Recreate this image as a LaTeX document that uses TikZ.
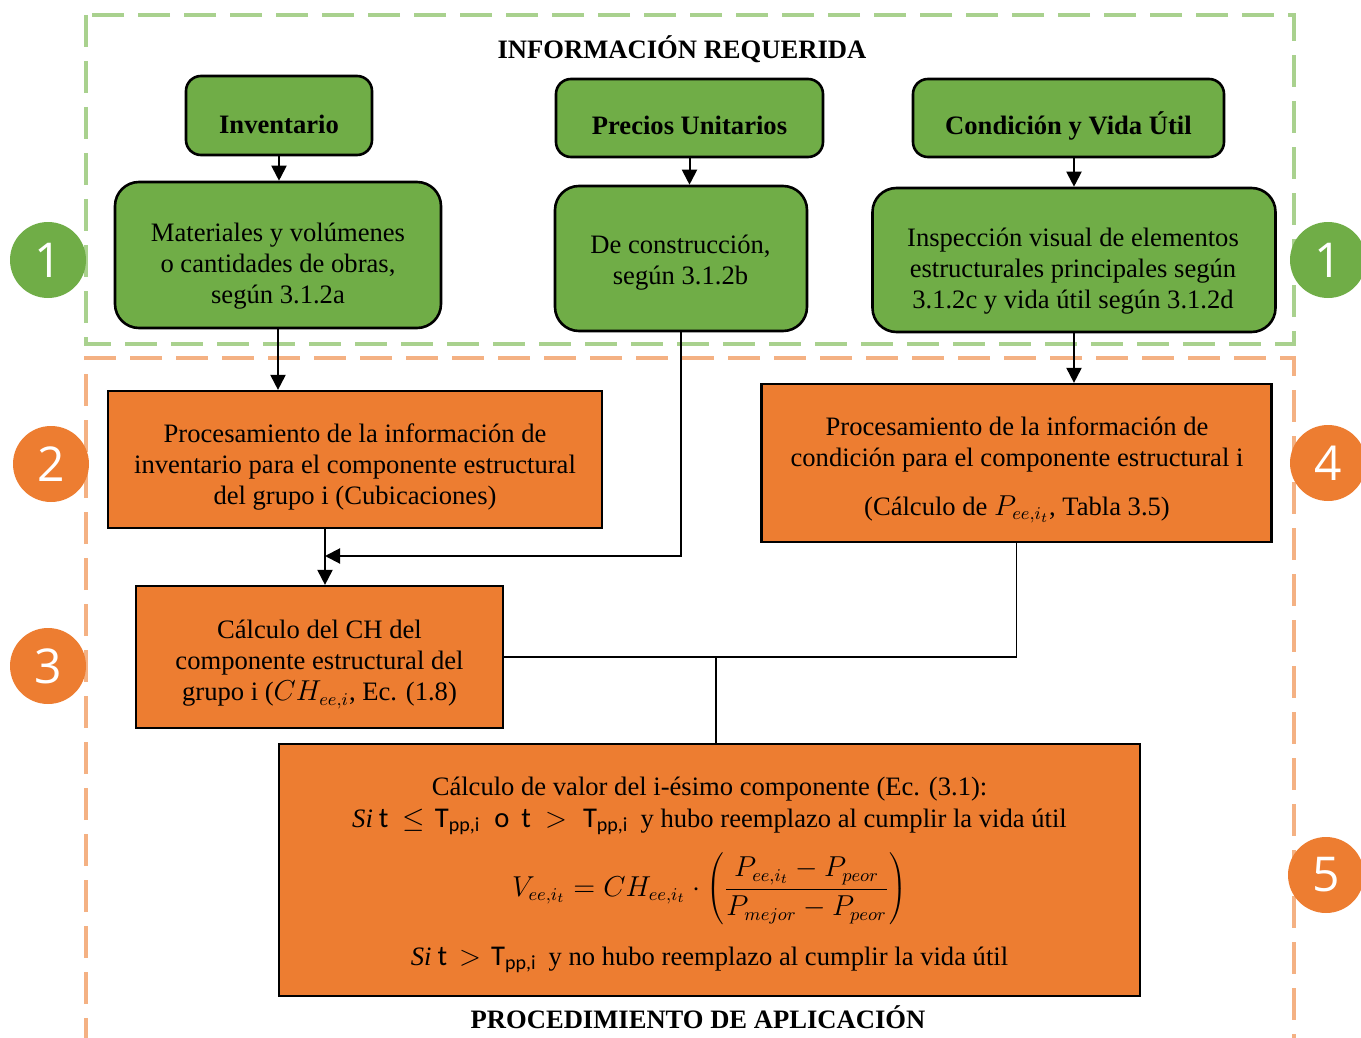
\documentclass[tikz,border=0pt]{standalone}
\usepackage{fontspec}
\setmainfont{Liberation Serif}
\newfontfamily\carl{Carlito}
\newfontfamily\numfont{Open Sans}
\usetikzlibrary{arrows.meta}
\definecolor{gfill}{RGB}{112,173,71}
\definecolor{ofill}{RGB}{237,125,49}
\definecolor{gdashc}{RGB}{169,209,142}
\definecolor{odashc}{RGB}{244,177,131}
\newcommand\cbr[1]{{\carl\fontsize{14.3}{15.5}\selectfont #1}}
\tikzset{
 gbox/.style={draw=black, line width=1.3pt, fill=gfill, rounded corners=7.5pt, inner sep=0pt},
 obox/.style={draw=black, line width=1.1pt, fill=ofill, inner sep=0pt},
 sz/.style 2 args={minimum width=#1*0.5pt, minimum height=#2*0.5pt},
 txt/.style={font=\fontsize{13.3}{15.5}\selectfont, align=center, inner sep=0pt},
 ltxt/.style={font=\fontsize{13.3}{15.5}\selectfont, inner sep=0pt, anchor=base},
 btxt/.style={font=\bfseries\fontsize{13.3}{15.5}\selectfont, inner sep=0pt, anchor=base},
 arr/.style={line width=1pt, -{Triangle[length=7.5pt,width=7.5pt]}},
 conn/.style={line width=1pt},
 thinconn/.style={line width=0.6pt},
 num/.style={circle, inner sep=0pt, minimum size=38pt, text=white, font=\numfont\fontsize{24}{24}\selectfont},
 gdash/.style={draw=gdashc, line width=1.6pt, dash pattern=on 16pt off 7pt},
 odash/.style={draw=odashc, line width=1.6pt, dash pattern=on 16pt off 7pt},
}
\begin{document}
\begin{tikzpicture}[x=0.5pt,y=-0.5pt]
\useasboundingbox (0,0) rectangle (1361,1038);
% dashed frames
\draw[gdash] (86,15) rectangle (1294,344);
\draw[odash] (86,1050) -- (86,358) -- (1294,358) -- (1294,1050);
% titles
\node[btxt] (title1) at (682,59) {INFORMACIÓN REQUERIDA};
\node[btxt] (title2) at (698,1028) {PROCEDIMIENTO DE APLICACIÓN};
% green boxes
\node[gbox, sz={186}{79}] (inv) at (279,115.5) {};
\node[btxt] (inv-t) at (279,133.5) {Inventario};
\node[gbox, rounded corners=12pt, sz={326}{146}] (mat) at (278,255) {};
\node[txt] (mat-t) at (278,266) {Materiales y volúmenes\\o cantidades de obras,\\según 3.1.2a};
\node[gbox, sz={267}{78}] (pre) at (689.5,118) {};
\node[btxt] (pre-t) at (689.5,134.5) {Precios Unitarios};
\node[gbox, rounded corners=12pt, sz={252}{145}] (con) at (681,258.5) {};
\node[txt] (con-t) at (680.5,262.5) {De construcción,\\según 3.1.2b};
\node[gbox, sz={311}{78}] (cvu) at (1068.5,118) {};
\node[btxt] (cvu-t) at (1068.5,135) {Condición y Vida Útil};
\node[gbox, rounded corners=12pt, sz={403}{144}] (insp) at (1074,260) {};
\node[txt] (insp-t) at (1073,271) {Inspección visual de elementos\\estructurales principales según\\3.1.2c y vida útil según 3.1.2d};
% orange boxes
\node[obox, sz={494}{137}] (pinv) at (355,459.5) {};
\node[txt] (pinv-t) at (355,467.5) {Procesamiento de la información de\\inventario para el componente estructural\\del grupo i (Cubicaciones)};
\node[obox, sz={510}{158}] (pcond) at (1016.5,463) {};
\node[ltxt] (pcond-t1) at (1017,435) {Procesamiento de la información de};
\node[ltxt] (pcond-t2) at (1017,466) {condición para el componente estructural i};
\node[ltxt] (pcond-t3) at (1017,515.5) {(Cálculo de $P_{ee,i_t}$, Tabla 3.5)};
\node[obox, sz={367}{142}] (cch) at (319.5,657) {};
\node[txt] (cch-t) at (319.5,664.5) {Cálculo del CH del\\componente estructural del\\grupo i ($CH_{ee,i}$, Ec. (1.8)};
\node[obox, sz={861}{252}] (cval) at (709.5,870) {};
\node[ltxt] (cval-t1) at (709.5,795) {Cálculo de valor del i-ésimo componente (Ec. (3.1):};
\node[ltxt] (cval-t2) at (709.5,827) {{\itshape Si}\hspace{3pt}\cbr{t}\hspace{7pt}$\leq$\hspace{5pt}\cbr{T\textsubscript{pp,i}}\hspace{7pt}\cbr{o}\hspace{6pt}\cbr{t}\hspace{7pt}$>$\hspace{8pt}\cbr{T\textsubscript{pp,i}}\hspace{6pt}y hubo reemplazo al cumplir la vida útil};
\node[txt] (cval-f) at (709.5,889) {$\displaystyle V_{ee,i_t} = CH_{ee,i_t}\cdot\left(\frac{P_{ee,i_t}-P_{peor}}{P_{mejor}-P_{peor}}\right)$};
\node[ltxt] (cval-t4) at (709.5,965) {{\itshape Si}\hspace{3pt}\cbr{t}\hspace{6pt}$>$\hspace{5pt}\cbr{T\textsubscript{pp,i}}\hspace{6pt}y no hubo reemplazo al cumplir la vida útil};
% connectors
\draw[arr] (inv.south) -- (inv.south |- mat.north);
\draw[arr] (pre.south) -- (pre.south |- con.north);
\draw[arr] (insp.north |- cvu.south) -- (insp.north);
\draw[arr] (mat.south) -- (mat.south |- pinv.north);
\coordinate (m) at (325,556);
\draw[arr] (con.south) |- (m);
\draw[arr] (pinv.south -| m) -- (cch.north -| m);
\draw[arr] (insp.south) -- (insp.south |- pcond.north);
\coordinate (j) at (716,657);
\draw[conn] (cch.east) -- (j) -- (cval.north -| j);
\draw[thinconn] (pcond.south) |- (j);
% step numbers
\node[num, fill=gfill] (n1a) at (48,260) {1};
\node[num, fill=gfill] (n1b) at (1328,260) {1};
\node[num, fill=ofill] (n2) at (51,464) {2};
\node[num, fill=ofill] (n3) at (48,666) {3};
\node[num, fill=ofill] (n4) at (1328,463) {4};
\node[num, fill=ofill] (n5) at (1326,875) {5};
\end{tikzpicture}
\end{document}
